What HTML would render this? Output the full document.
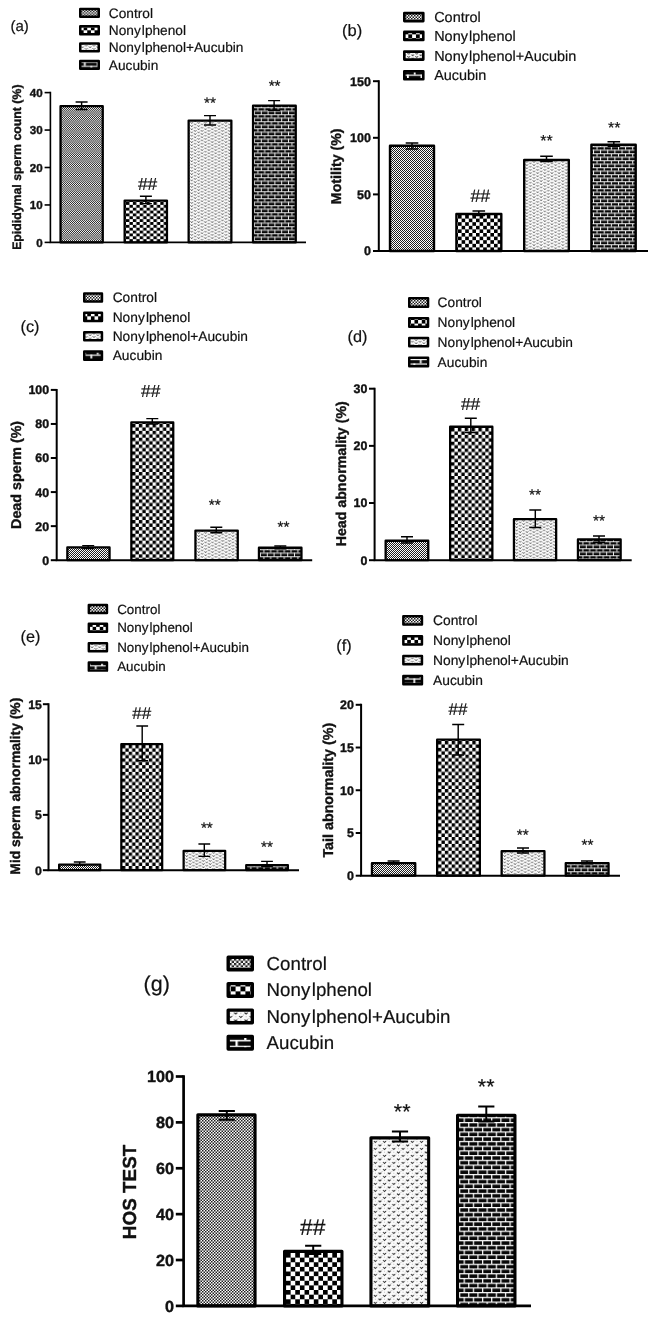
<!DOCTYPE html>
<html lang="en">
<head>
<meta charset="utf-8">
<title>Sperm parameters - bar charts</title>
<style>
html,body{margin:0;padding:0;background:#fff;}
body{width:655px;height:1317px;overflow:hidden;}
text{stroke:#111;stroke-width:.2px;stroke-linejoin:round;}
text.b{stroke-width:.38px;font-weight:700;}
svg{display:block;filter:blur(.35px);will-change:transform;-webkit-font-smoothing:antialiased;font-family:'Liberation Sans', sans-serif;fill:#111;}
</style>
</head>
<body>
<svg width="655" height="1317" viewBox="0 0 655 1317" text-rendering="geometricPrecision">
<rect width="655" height="1317" fill="#fff"/>
<g id="panel-a">
<defs><pattern id="pa0" width="2" height="1.81" patternUnits="userSpaceOnUse"><rect width="2" height="1.81" fill="#fdfdfd"/><rect width="1" height="0.91" fill="#1e1e1e"/><rect x="1" y="0.91" width="1" height="0.91" fill="#1e1e1e"/></pattern><pattern id="pa1" width="6.86" height="5.72" patternUnits="userSpaceOnUse"><rect width="6.86" height="5.72" fill="#fff"/><rect width="3.43" height="2.86" fill="#000"/><rect x="3.43" y="2.86" width="3.43" height="2.86" fill="#000"/></pattern><pattern id="pa2" width="6.85" height="3.2" patternUnits="userSpaceOnUse"><rect width="6.85" height="3.2" fill="#fbfbfb"/><path d="M0.56 0.2L1.71 1.4L2.86 0.2" fill="none" stroke="#2c2c2c" stroke-width="0.8"/><path d="M3.99 1.8L5.14 3L6.29 1.8" fill="none" stroke="#2c2c2c" stroke-width="0.8"/></pattern><pattern id="pa3" width="6.8" height="7" y="0.25" patternUnits="userSpaceOnUse"><rect width="6.8" height="7" fill="#080808"/><rect y="0" width="6.8" height="0.9" fill="#fff"/><rect y="3.5" width="6.8" height="0.9" fill="#fff"/><rect x="3.4" y="0" width="0.9" height="3.5" fill="#fff"/><rect x="0" y="3.5" width="0.9" height="3.5" fill="#fff"/></pattern><pattern id="qa0" href="#pa0" patternTransform="scale(1.5 1.5)"/><pattern id="qa1" href="#pa1" patternTransform="scale(1.06 1.06)"/><pattern id="qa2" href="#pa2" patternTransform="scale(1.12 1.0)"/><pattern id="qa3" href="#pa3" patternTransform="scale(1.9 1.25)"/></defs>
<rect x="80.25" y="8.95" width="18.5" height="7.9" fill="url(#qa0)" stroke="#000" stroke-width="2.5" stroke-linejoin="round"/>
<text x="108.8" y="17.56" font-size="13.7">Control</text>
<rect x="80.25" y="26.25" width="18.5" height="7.9" fill="url(#qa1)" stroke="#000" stroke-width="2.5" stroke-linejoin="round"/>
<text x="108.8" y="34.86" font-size="13.7">Nony<tspan dx="1.1">l</tspan>phenol</text>
<rect x="80.25" y="43.45" width="18.5" height="7.9" fill="url(#qa2)" stroke="#000" stroke-width="2.5" stroke-linejoin="round"/>
<text x="108.8" y="52.06" font-size="13.7">Nony<tspan dx="1.1">l</tspan>phenol+Aucubin</text>
<rect x="80.25" y="60.95" width="18.5" height="7.9" fill="url(#qa3)" stroke="#000" stroke-width="2.5" stroke-linejoin="round"/>
<text x="108.8" y="69.56" font-size="13.7">Aucubin</text>
<text x="10.5" y="31.2" font-size="15">(a)</text>
<g transform="translate(62 108)"><rect x="-1.45" y="-1.85" width="42.2" height="136.25" fill="url(#pa0)" stroke="#000" stroke-width="2.3" stroke-linejoin="round"/></g>
<g transform="translate(126 202)"><rect x="-1.35" y="-1.45" width="42.3" height="41.85" fill="url(#pa1)" stroke="#000" stroke-width="2.3" stroke-linejoin="round"/></g>
<g transform="translate(190 122)"><rect x="-1.35" y="-1.45" width="42.7" height="121.85" fill="url(#pa2)" stroke="#000" stroke-width="2.3" stroke-linejoin="round"/></g>
<g transform="translate(254 107)"><rect x="-0.95" y="-1.35" width="42.7" height="136.75" fill="url(#pa3)" stroke="#000" stroke-width="2.3" stroke-linejoin="round"/></g>
<path d="M81.6 101.9V109.4M75.6 101.9H87.6M75.6 109.4H87.6" fill="none" stroke="#000" stroke-width="1.45"/>
<path d="M145.9 196.2V203.6M139.9 196.2H151.9M139.9 203.6H151.9" fill="none" stroke="#000" stroke-width="1.45"/>
<path d="M210 115.6V125M204 115.6H216M204 125H216" fill="none" stroke="#000" stroke-width="1.45"/>
<path d="M274.1 100.6V110.2M268.1 100.6H280.1M268.1 110.2H280.1" fill="none" stroke="#000" stroke-width="1.45"/>
<path d="M50.4 91.8V242.4H306" fill="none" stroke="#000" stroke-width="1.6" stroke-linejoin="miter"/>
<path d="M44.6 242.4H50.4" stroke="#000" stroke-width="1.6"/>
<text x="42.6" y="246.55" font-size="11.6" class="b" text-anchor="end">0</text>
<path d="M44.6 204.95H50.4" stroke="#000" stroke-width="1.6"/>
<text x="42.6" y="209.1" font-size="11.6" class="b" text-anchor="end">10</text>
<path d="M44.6 167.5H50.4" stroke="#000" stroke-width="1.6"/>
<text x="42.6" y="171.65" font-size="11.6" class="b" text-anchor="end">20</text>
<path d="M44.6 130.05H50.4" stroke="#000" stroke-width="1.6"/>
<text x="42.6" y="134.2" font-size="11.6" class="b" text-anchor="end">30</text>
<path d="M44.6 92.6H50.4" stroke="#000" stroke-width="1.6"/>
<text x="42.6" y="96.75" font-size="11.6" class="b" text-anchor="end">40</text>
<text transform="translate(20.8 167.2) rotate(-90)" font-size="12.3" class="b" text-anchor="middle">Epididymal sperm count (%)</text>
<text x="147.6" y="189.54" font-size="17.4" text-anchor="middle">##</text>
<text x="209.96" y="107.61" font-size="15.3" text-anchor="middle">**</text>
<text x="274.6" y="91.08" font-size="15.3" text-anchor="middle">**</text>
</g>
<g id="panel-b">
<defs><pattern id="pb0" width="2" height="2" patternUnits="userSpaceOnUse"><rect width="2" height="2" fill="#fdfdfd"/><rect width="1" height="1" fill="#1e1e1e"/><rect x="1" y="1" width="1" height="1" fill="#1e1e1e"/></pattern><pattern id="pb1" width="7.2" height="7.2" patternUnits="userSpaceOnUse"><rect width="7.2" height="7.2" fill="#fff"/><rect width="3.6" height="3.6" fill="#000"/><rect x="3.6" y="3.6" width="3.6" height="3.6" fill="#000"/></pattern><pattern id="pb2" width="7.19" height="3.2" patternUnits="userSpaceOnUse"><rect width="7.19" height="3.2" fill="#fbfbfb"/><path d="M0.65 0.2L1.8 1.4L2.95 0.2" fill="none" stroke="#2c2c2c" stroke-width="0.8"/><path d="M4.24 1.8L5.39 3L6.54 1.8" fill="none" stroke="#2c2c2c" stroke-width="0.8"/></pattern><pattern id="pb3" width="7.14" height="7" y="0.25" patternUnits="userSpaceOnUse"><rect width="7.14" height="7" fill="#080808"/><rect y="0" width="7.14" height="0.95" fill="#fff"/><rect y="3.5" width="7.14" height="0.95" fill="#fff"/><rect x="3.57" y="0" width="0.95" height="3.5" fill="#fff"/><rect x="0" y="3.5" width="0.95" height="3.5" fill="#fff"/></pattern><pattern id="qb0" href="#pb0" patternTransform="scale(1.5 1.5)"/><pattern id="qb1" href="#pb1" patternTransform="scale(1.06 1.06)"/><pattern id="qb2" href="#pb2" patternTransform="scale(1.12 1.0)"/><pattern id="qb3" href="#pb3" patternTransform="scale(1.9 1.25)"/></defs>
<rect x="404.31" y="13.11" width="18.98" height="7.97" fill="url(#qb0)" stroke="#000" stroke-width="2.62" stroke-linejoin="round"/>
<text x="434.2" y="22.01" font-size="14.45">Control</text>
<rect x="404.31" y="31.91" width="18.98" height="7.97" fill="url(#qb1)" stroke="#000" stroke-width="2.62" stroke-linejoin="round"/>
<text x="434.2" y="40.81" font-size="14.45">Nony<tspan dx="1.16">l</tspan>phenol</text>
<rect x="404.31" y="51.61" width="18.98" height="7.97" fill="url(#qb2)" stroke="#000" stroke-width="2.62" stroke-linejoin="round"/>
<text x="434.2" y="60.51" font-size="14.45">Nony<tspan dx="1.16">l</tspan>phenol+Aucubin</text>
<rect x="404.31" y="71.31" width="18.98" height="7.97" fill="url(#qb3)" stroke="#000" stroke-width="2.62" stroke-linejoin="round"/>
<text x="434.2" y="80.21" font-size="14.45">Aucubin</text>
<text x="342" y="35.6" font-size="16.5">(b)</text>
<g transform="translate(391 147)"><rect x="-0.99" y="-1.29" width="43.98" height="105.29" fill="url(#pb0)" stroke="#000" stroke-width="2.42" stroke-linejoin="round"/></g>
<g transform="translate(458 215)"><rect x="-1.59" y="-0.99" width="44.89" height="36.99" fill="url(#pb1)" stroke="#000" stroke-width="2.42" stroke-linejoin="round"/></g>
<g transform="translate(525 161)"><rect x="-0.79" y="-0.99" width="44.59" height="90.99" fill="url(#pb2)" stroke="#000" stroke-width="2.42" stroke-linejoin="round"/></g>
<g transform="translate(593 146)"><rect x="-1.59" y="-1.29" width="44.28" height="106.29" fill="url(#pb3)" stroke="#000" stroke-width="2.42" stroke-linejoin="round"/></g>
<path d="M412 142.9V149M405.7 142.9H418.3M405.7 149H418.3" fill="none" stroke="#000" stroke-width="1.52"/>
<path d="M478.8 211V215.4M472.5 211H485.1M472.5 215.4H485.1" fill="none" stroke="#000" stroke-width="1.52"/>
<path d="M546.5 156.3V161.6M540.2 156.3H552.8M540.2 161.6H552.8" fill="none" stroke="#000" stroke-width="1.52"/>
<path d="M613.8 141.7V146.2M607.5 141.7H620.1M607.5 146.2H620.1" fill="none" stroke="#000" stroke-width="1.52"/>
<path d="M378.8 80.2V251H648" fill="none" stroke="#000" stroke-width="2" stroke-linejoin="miter"/>
<path d="M373 251H378.8" stroke="#000" stroke-width="2"/>
<text x="370.9" y="255.47" font-size="12.5" class="b" text-anchor="end">0</text>
<path d="M373 194.4H378.8" stroke="#000" stroke-width="2"/>
<text x="370.9" y="198.88" font-size="12.5" class="b" text-anchor="end">50</text>
<path d="M373 137.8H378.8" stroke="#000" stroke-width="2"/>
<text x="370.9" y="142.28" font-size="12.5" class="b" text-anchor="end">100</text>
<path d="M373 81.2H378.8" stroke="#000" stroke-width="2"/>
<text x="370.9" y="85.67" font-size="12.5" class="b" text-anchor="end">150</text>
<text transform="translate(341.2 166.3) rotate(-90)" font-size="14.2" class="b" text-anchor="middle">Motility (%)</text>
<text x="480.27" y="202.13" font-size="17.8" text-anchor="middle">##</text>
<text x="546.5" y="146.04" font-size="16" text-anchor="middle">**</text>
<text x="614.25" y="133.49" font-size="16" text-anchor="middle">**</text>
</g>
<g id="panel-c">
<defs><pattern id="pc0" width="2" height="2" patternUnits="userSpaceOnUse"><rect width="2" height="2" fill="#fdfdfd"/><rect width="1" height="1" fill="#1e1e1e"/><rect x="1" y="1" width="1" height="1" fill="#1e1e1e"/></pattern><pattern id="pc1" width="6.86" height="6.86" patternUnits="userSpaceOnUse"><rect width="6.86" height="6.86" fill="#fff"/><rect width="3.43" height="3.43" fill="#000"/><rect x="3.43" y="3.43" width="3.43" height="3.43" fill="#000"/></pattern><pattern id="pc2" width="6.85" height="3.2" patternUnits="userSpaceOnUse"><rect width="6.85" height="3.2" fill="#fbfbfb"/><path d="M0.56 0.2L1.71 1.4L2.86 0.2" fill="none" stroke="#2c2c2c" stroke-width="0.8"/><path d="M3.99 1.8L5.14 3L6.29 1.8" fill="none" stroke="#2c2c2c" stroke-width="0.8"/></pattern><pattern id="pc3" width="6.8" height="7" y="0.25" patternUnits="userSpaceOnUse"><rect width="6.8" height="7" fill="#080808"/><rect y="0" width="6.8" height="0.9" fill="#fff"/><rect y="3.5" width="6.8" height="0.9" fill="#fff"/><rect x="3.4" y="0" width="0.9" height="3.5" fill="#fff"/><rect x="0" y="3.5" width="0.9" height="3.5" fill="#fff"/></pattern><pattern id="qc0" href="#pc0" patternTransform="scale(1.5 1.5)"/><pattern id="qc1" href="#pc1" patternTransform="scale(1.06 1.06)"/><pattern id="qc2" href="#pc2" patternTransform="scale(1.12 1.0)"/><pattern id="qc3" href="#pc3" patternTransform="scale(1.9 1.25)"/></defs>
<rect x="84.25" y="293.45" width="17.7" height="8.1" fill="url(#qc0)" stroke="#000" stroke-width="2.5" stroke-linejoin="round"/>
<text x="112.7" y="302.18" font-size="13.75">Control</text>
<rect x="84.25" y="312.85" width="17.7" height="8.1" fill="url(#qc1)" stroke="#000" stroke-width="2.5" stroke-linejoin="round"/>
<text x="112.7" y="321.57" font-size="13.75">Nony<tspan dx="1.1">l</tspan>phenol</text>
<rect x="84.25" y="332.15" width="17.7" height="8.1" fill="url(#qc2)" stroke="#000" stroke-width="2.5" stroke-linejoin="round"/>
<text x="112.7" y="340.88" font-size="13.75">Nony<tspan dx="1.1">l</tspan>phenol+Aucubin</text>
<rect x="84.25" y="351.55" width="17.7" height="8.1" fill="url(#qc3)" stroke="#000" stroke-width="2.5" stroke-linejoin="round"/>
<text x="112.7" y="360.28" font-size="13.75">Aucubin</text>
<text x="20.5" y="332" font-size="16.3">(c)</text>
<g transform="translate(68 549)"><rect x="-0.65" y="-1.55" width="42.2" height="12.75" fill="url(#pc0)" stroke="#000" stroke-width="2.3" stroke-linejoin="round"/></g>
<g transform="translate(132 424)"><rect x="-0.65" y="-1.55" width="41.9" height="137.75" fill="url(#pc1)" stroke="#000" stroke-width="2.3" stroke-linejoin="round"/></g>
<g transform="translate(197 532)"><rect x="-1.55" y="-1.45" width="42.3" height="29.65" fill="url(#pc2)" stroke="#000" stroke-width="2.3" stroke-linejoin="round"/></g>
<g transform="translate(260 549)"><rect x="-1.05" y="-1.25" width="42.5" height="12.45" fill="url(#pc3)" stroke="#000" stroke-width="2.3" stroke-linejoin="round"/></g>
<path d="M88.2 545.6V548.4M82.2 545.6H94.2M82.2 548.4H94.2" fill="none" stroke="#000" stroke-width="1.45"/>
<path d="M152.3 418.6V424M146.3 418.6H158.3M146.3 424H158.3" fill="none" stroke="#000" stroke-width="1.45"/>
<path d="M216.3 527.2V532.7M210.3 527.2H222.3M210.3 532.7H222.3" fill="none" stroke="#000" stroke-width="1.45"/>
<path d="M280.3 546V548.8M274.3 546H286.3M274.3 548.8H286.3" fill="none" stroke="#000" stroke-width="1.45"/>
<path d="M56.7 388.9V560.2H312.2" fill="none" stroke="#000" stroke-width="2" stroke-linejoin="miter"/>
<path d="M50.8 560.2H56.7" stroke="#000" stroke-width="2"/>
<text x="49.1" y="564.64" font-size="12.4" class="b" text-anchor="end">0</text>
<path d="M50.8 526.14H56.7" stroke="#000" stroke-width="2"/>
<text x="49.1" y="530.58" font-size="12.4" class="b" text-anchor="end">20</text>
<path d="M50.8 492.08H56.7" stroke="#000" stroke-width="2"/>
<text x="49.1" y="496.52" font-size="12.4" class="b" text-anchor="end">40</text>
<path d="M50.8 458.02H56.7" stroke="#000" stroke-width="2"/>
<text x="49.1" y="462.46" font-size="12.4" class="b" text-anchor="end">60</text>
<path d="M50.8 423.96H56.7" stroke="#000" stroke-width="2"/>
<text x="49.1" y="428.4" font-size="12.4" class="b" text-anchor="end">80</text>
<path d="M50.8 389.9H56.7" stroke="#000" stroke-width="2"/>
<text x="49.1" y="394.34" font-size="12.4" class="b" text-anchor="end">100</text>
<text transform="translate(20.7 474.9) rotate(-90)" font-size="14.3" class="b" text-anchor="middle">Dead sperm (%)</text>
<text x="150.73" y="397.04" font-size="17.4" text-anchor="middle">##</text>
<text x="214.65" y="510.38" font-size="15.3" text-anchor="middle">**</text>
<text x="283.47" y="531.88" font-size="15.3" text-anchor="middle">**</text>
</g>
<g id="panel-d">
<defs><pattern id="pd0" width="2" height="2" patternUnits="userSpaceOnUse"><rect width="2" height="2" fill="#fdfdfd"/><rect width="1" height="1" fill="#1e1e1e"/><rect x="1" y="1" width="1" height="1" fill="#1e1e1e"/></pattern><pattern id="pd1" width="6.86" height="6.86" patternUnits="userSpaceOnUse"><rect width="6.86" height="6.86" fill="#fff"/><rect width="3.43" height="3.43" fill="#000"/><rect x="3.43" y="3.43" width="3.43" height="3.43" fill="#000"/></pattern><pattern id="pd2" width="6.85" height="3.2" patternUnits="userSpaceOnUse"><rect width="6.85" height="3.2" fill="#fbfbfb"/><path d="M0.56 0.2L1.71 1.4L2.86 0.2" fill="none" stroke="#2c2c2c" stroke-width="0.8"/><path d="M3.99 1.8L5.14 3L6.29 1.8" fill="none" stroke="#2c2c2c" stroke-width="0.8"/></pattern><pattern id="pd3" width="6.8" height="7" y="0.25" patternUnits="userSpaceOnUse"><rect width="6.8" height="7" fill="#080808"/><rect y="0" width="6.8" height="0.9" fill="#fff"/><rect y="3.5" width="6.8" height="0.9" fill="#fff"/><rect x="3.4" y="0" width="0.9" height="3.5" fill="#fff"/><rect x="0" y="3.5" width="0.9" height="3.5" fill="#fff"/></pattern><pattern id="qd0" href="#pd0" patternTransform="scale(1.5 1.5)"/><pattern id="qd1" href="#pd1" patternTransform="scale(1.06 1.06)"/><pattern id="qd2" href="#pd2" patternTransform="scale(1.12 1.0)"/><pattern id="qd3" href="#pd3" patternTransform="scale(1.9 1.25)"/></defs>
<rect x="409.25" y="298.35" width="18.8" height="8.3" fill="url(#qd0)" stroke="#000" stroke-width="2.5" stroke-linejoin="round"/>
<text x="437.6" y="307.18" font-size="13.75">Control</text>
<rect x="409.25" y="318.35" width="18.8" height="8.3" fill="url(#qd1)" stroke="#000" stroke-width="2.5" stroke-linejoin="round"/>
<text x="437.6" y="327.18" font-size="13.75">Nony<tspan dx="1.1">l</tspan>phenol</text>
<rect x="409.25" y="338.05" width="18.8" height="8.3" fill="url(#qd2)" stroke="#000" stroke-width="2.5" stroke-linejoin="round"/>
<text x="437.6" y="346.88" font-size="13.75">Nony<tspan dx="1.1">l</tspan>phenol+Aucubin</text>
<rect x="409.25" y="357.85" width="18.8" height="8.3" fill="url(#qd3)" stroke="#000" stroke-width="2.5" stroke-linejoin="round"/>
<text x="437.6" y="366.68" font-size="13.75">Aucubin</text>
<text x="347.5" y="341.6" font-size="16.3">(d)</text>
<g transform="translate(387 542)"><rect x="-1.35" y="-1.25" width="42.6" height="19.45" fill="url(#pd0)" stroke="#000" stroke-width="2.3" stroke-linejoin="round"/></g>
<g transform="translate(451 428)"><rect x="-0.85" y="-1.25" width="42.2" height="133.45" fill="url(#pd1)" stroke="#000" stroke-width="2.3" stroke-linejoin="round"/></g>
<g transform="translate(515 520)"><rect x="-1.05" y="-0.85" width="42.2" height="41.05" fill="url(#pd2)" stroke="#000" stroke-width="2.3" stroke-linejoin="round"/></g>
<g transform="translate(579 541)"><rect x="-1.05" y="-1.55" width="42.7" height="20.75" fill="url(#pd3)" stroke="#000" stroke-width="2.3" stroke-linejoin="round"/></g>
<path d="M407 536.8V543M401 536.8H413M401 543H413" fill="none" stroke="#000" stroke-width="1.45"/>
<path d="M470.8 418.3V432.6M464.8 418.3H476.8M464.8 432.6H476.8" fill="none" stroke="#000" stroke-width="1.45"/>
<path d="M535.3 510V527.5M529.3 510H541.3M529.3 527.5H541.3" fill="none" stroke="#000" stroke-width="1.45"/>
<path d="M599 536V542.2M593 536H605M593 542.2H605" fill="none" stroke="#000" stroke-width="1.45"/>
<path d="M374.6 387.7V560.2H631.7" fill="none" stroke="#000" stroke-width="2" stroke-linejoin="miter"/>
<path d="M369 560.2H374.6" stroke="#000" stroke-width="2"/>
<text x="367.3" y="564.64" font-size="12.4" class="b" text-anchor="end">0</text>
<path d="M369 503.03H374.6" stroke="#000" stroke-width="2"/>
<text x="367.3" y="507.47" font-size="12.4" class="b" text-anchor="end">10</text>
<path d="M369 445.87H374.6" stroke="#000" stroke-width="2"/>
<text x="367.3" y="450.31" font-size="12.4" class="b" text-anchor="end">20</text>
<path d="M369 388.7H374.6" stroke="#000" stroke-width="2"/>
<text x="367.3" y="393.14" font-size="12.4" class="b" text-anchor="end">30</text>
<text transform="translate(345.9 473.8) rotate(-90)" font-size="14.2" class="b" text-anchor="middle">Head abnormality (%)</text>
<text x="470.57" y="409.56" font-size="17.4" text-anchor="middle">##</text>
<text x="535.01" y="500.19" font-size="15.5" text-anchor="middle">**</text>
<text x="599.01" y="526.34" font-size="15.5" text-anchor="middle">**</text>
</g>
<g id="panel-e">
<defs><pattern id="pe0" width="2" height="2" patternUnits="userSpaceOnUse"><rect width="2" height="2" fill="#fdfdfd"/><rect width="1" height="1" fill="#1e1e1e"/><rect x="1" y="1" width="1" height="1" fill="#1e1e1e"/></pattern><pattern id="pe1" width="6.72" height="6.72" patternUnits="userSpaceOnUse"><rect width="6.72" height="6.72" fill="#fff"/><rect width="3.36" height="3.36" fill="#000"/><rect x="3.36" y="3.36" width="3.36" height="3.36" fill="#000"/></pattern><pattern id="pe2" width="6.71" height="3.2" patternUnits="userSpaceOnUse"><rect width="6.71" height="3.2" fill="#fbfbfb"/><path d="M0.53 0.2L1.68 1.4L2.83 0.2" fill="none" stroke="#2c2c2c" stroke-width="0.8"/><path d="M3.88 1.8L5.03 3L6.18 1.8" fill="none" stroke="#2c2c2c" stroke-width="0.8"/></pattern><pattern id="pe3" width="6.66" height="7" y="0.25" patternUnits="userSpaceOnUse"><rect width="6.66" height="7" fill="#080808"/><rect y="0" width="6.66" height="0.88" fill="#fff"/><rect y="3.5" width="6.66" height="0.88" fill="#fff"/><rect x="3.33" y="0" width="0.88" height="3.5" fill="#fff"/><rect x="0" y="3.5" width="0.88" height="3.5" fill="#fff"/></pattern><pattern id="qe0" href="#pe0" patternTransform="scale(1.5 1.5)"/><pattern id="qe1" href="#pe1" patternTransform="scale(1.06 1.06)"/><pattern id="qe2" href="#pe2" patternTransform="scale(1.12 1.0)"/><pattern id="qe3" href="#pe3" patternTransform="scale(1.9 1.25)"/></defs>
<rect x="88.82" y="604.98" width="18.15" height="8.05" fill="url(#qe0)" stroke="#000" stroke-width="2.45" stroke-linejoin="round"/>
<text x="117.2" y="613.56" font-size="13.4">Control</text>
<rect x="88.82" y="623.77" width="18.15" height="8.05" fill="url(#qe1)" stroke="#000" stroke-width="2.45" stroke-linejoin="round"/>
<text x="117.2" y="632.36" font-size="13.4">Nony<tspan dx="1.08">l</tspan>phenol</text>
<rect x="88.82" y="643.18" width="18.15" height="8.05" fill="url(#qe2)" stroke="#000" stroke-width="2.45" stroke-linejoin="round"/>
<text x="117.2" y="651.76" font-size="13.4">Nony<tspan dx="1.08">l</tspan>phenol+Aucubin</text>
<rect x="88.82" y="662.58" width="18.15" height="8.05" fill="url(#qe3)" stroke="#000" stroke-width="2.45" stroke-linejoin="round"/>
<text x="117.2" y="671.16" font-size="13.4">Aucubin</text>
<text x="20.5" y="641.8" font-size="16.3">(e)</text>
<g transform="translate(60 866)"><rect x="-0.87" y="-1.47" width="41.15" height="5.67" fill="url(#pe0)" stroke="#000" stroke-width="2.25" stroke-linejoin="round"/></g>
<g transform="translate(122 745)"><rect x="-0.67" y="-0.87" width="40.85" height="126.07" fill="url(#pe1)" stroke="#000" stroke-width="2.25" stroke-linejoin="round"/></g>
<g transform="translate(185 852)"><rect x="-1.37" y="-1.17" width="41.55" height="19.37" fill="url(#pe2)" stroke="#000" stroke-width="2.25" stroke-linejoin="round"/></g>
<g transform="translate(247 866)"><rect x="-0.77" y="-0.97" width="41.65" height="5.17" fill="url(#pe3)" stroke="#000" stroke-width="2.25" stroke-linejoin="round"/></g>
<path d="M79.7 862V865.4M73.82 862H85.58M73.82 865.4H85.58" fill="none" stroke="#000" stroke-width="1.42"/>
<path d="M142.2 726V760.8M136.32 726H148.08M136.32 760.8H148.08" fill="none" stroke="#000" stroke-width="1.42"/>
<path d="M204.3 844V856.4M198.42 844H210.18M198.42 856.4H210.18" fill="none" stroke="#000" stroke-width="1.42"/>
<path d="M267 861.4V866.6M261.12 861.4H272.88M261.12 866.6H272.88" fill="none" stroke="#000" stroke-width="1.42"/>
<path d="M48.5 703.2V870.2H299" fill="none" stroke="#000" stroke-width="2" stroke-linejoin="miter"/>
<path d="M42.9 870.2H48.5" stroke="#000" stroke-width="2"/>
<text x="41.9" y="874.6" font-size="12.3" class="b" text-anchor="end">0</text>
<path d="M42.9 814.87H48.5" stroke="#000" stroke-width="2"/>
<text x="41.9" y="819.27" font-size="12.3" class="b" text-anchor="end">5</text>
<path d="M42.9 759.53H48.5" stroke="#000" stroke-width="2"/>
<text x="41.9" y="763.94" font-size="12.3" class="b" text-anchor="end">10</text>
<path d="M42.9 704.2H48.5" stroke="#000" stroke-width="2"/>
<text x="41.9" y="708.6" font-size="12.3" class="b" text-anchor="end">15</text>
<text transform="translate(20.2 786.2) rotate(-90)" font-size="13.85" class="b" text-anchor="middle">Mid sperm abnormality (%)</text>
<text x="141.82" y="718.64" font-size="17" text-anchor="middle">##</text>
<text x="206.89" y="832.59" font-size="15.3" text-anchor="middle">**</text>
<text x="267.04" y="852.41" font-size="15.3" text-anchor="middle">**</text>
</g>
<g id="panel-f">
<defs><pattern id="pf0" width="2" height="2" patternUnits="userSpaceOnUse"><rect width="2" height="2" fill="#fdfdfd"/><rect width="1" height="1" fill="#1e1e1e"/><rect x="1" y="1" width="1" height="1" fill="#1e1e1e"/></pattern><pattern id="pf1" width="6.86" height="6.86" patternUnits="userSpaceOnUse"><rect width="6.86" height="6.86" fill="#fff"/><rect width="3.43" height="3.43" fill="#000"/><rect x="3.43" y="3.43" width="3.43" height="3.43" fill="#000"/></pattern><pattern id="pf2" width="6.85" height="3.2" patternUnits="userSpaceOnUse"><rect width="6.85" height="3.2" fill="#fbfbfb"/><path d="M0.56 0.2L1.71 1.4L2.86 0.2" fill="none" stroke="#2c2c2c" stroke-width="0.8"/><path d="M3.99 1.8L5.14 3L6.29 1.8" fill="none" stroke="#2c2c2c" stroke-width="0.8"/></pattern><pattern id="pf3" width="6.8" height="7" y="0.25" patternUnits="userSpaceOnUse"><rect width="6.8" height="7" fill="#080808"/><rect y="0" width="6.8" height="0.9" fill="#fff"/><rect y="3.5" width="6.8" height="0.9" fill="#fff"/><rect x="3.4" y="0" width="0.9" height="3.5" fill="#fff"/><rect x="0" y="3.5" width="0.9" height="3.5" fill="#fff"/></pattern><pattern id="qf0" href="#pf0" patternTransform="scale(1.5 1.5)"/><pattern id="qf1" href="#pf1" patternTransform="scale(1.06 1.06)"/><pattern id="qf2" href="#pf2" patternTransform="scale(1.12 1.0)"/><pattern id="qf3" href="#pf3" patternTransform="scale(1.9 1.25)"/></defs>
<rect x="403.35" y="616.25" width="18.6" height="8.3" fill="url(#qf0)" stroke="#000" stroke-width="2.5" stroke-linejoin="round"/>
<text x="433" y="625.09" font-size="13.8">Control</text>
<rect x="403.35" y="636.15" width="18.6" height="8.3" fill="url(#qf1)" stroke="#000" stroke-width="2.5" stroke-linejoin="round"/>
<text x="433" y="644.99" font-size="13.8">Nony<tspan dx="1.1">l</tspan>phenol</text>
<rect x="403.35" y="655.95" width="18.6" height="8.3" fill="url(#qf2)" stroke="#000" stroke-width="2.5" stroke-linejoin="round"/>
<text x="433" y="664.79" font-size="13.8">Nony<tspan dx="1.1">l</tspan>phenol+Aucubin</text>
<rect x="403.35" y="675.95" width="18.6" height="8.3" fill="url(#qf3)" stroke="#000" stroke-width="2.5" stroke-linejoin="round"/>
<text x="433" y="684.79" font-size="13.8">Aucubin</text>
<text x="336.3" y="651" font-size="16.3">(f)</text>
<g transform="translate(373 864)"><rect x="-1.05" y="-0.85" width="43.3" height="12.55" fill="url(#pf0)" stroke="#000" stroke-width="2.3" stroke-linejoin="round"/></g>
<g transform="translate(438 741)"><rect x="-0.85" y="-1.35" width="42.7" height="136.05" fill="url(#pf1)" stroke="#000" stroke-width="2.3" stroke-linejoin="round"/></g>
<g transform="translate(503 852)"><rect x="-1.35" y="-0.85" width="42.8" height="24.55" fill="url(#pf2)" stroke="#000" stroke-width="2.3" stroke-linejoin="round"/></g>
<g transform="translate(567 864)"><rect x="-1.25" y="-0.85" width="42.8" height="12.55" fill="url(#pf3)" stroke="#000" stroke-width="2.3" stroke-linejoin="round"/></g>
<path d="M393.6 861V864M387.6 861H399.6M387.6 864H399.6" fill="none" stroke="#000" stroke-width="1.45"/>
<path d="M458.2 724.4V755M452.2 724.4H464.2M452.2 755H464.2" fill="none" stroke="#000" stroke-width="1.45"/>
<path d="M523 848V853M517 848H529M517 853H529" fill="none" stroke="#000" stroke-width="1.45"/>
<path d="M587 861V863.8M581 861H593M581 863.8H593" fill="none" stroke="#000" stroke-width="1.45"/>
<path d="M361.1 703.8V875.7H620" fill="none" stroke="#000" stroke-width="2" stroke-linejoin="miter"/>
<path d="M355.7 875.7H361.1" stroke="#000" stroke-width="2"/>
<text x="353.9" y="880.14" font-size="12.4" class="b" text-anchor="end">0</text>
<path d="M355.7 832.98H361.1" stroke="#000" stroke-width="2"/>
<text x="353.9" y="837.41" font-size="12.4" class="b" text-anchor="end">5</text>
<path d="M355.7 790.25H361.1" stroke="#000" stroke-width="2"/>
<text x="353.9" y="794.69" font-size="12.4" class="b" text-anchor="end">10</text>
<path d="M355.7 747.52H361.1" stroke="#000" stroke-width="2"/>
<text x="353.9" y="751.96" font-size="12.4" class="b" text-anchor="end">15</text>
<path d="M355.7 704.8H361.1" stroke="#000" stroke-width="2"/>
<text x="353.9" y="709.24" font-size="12.4" class="b" text-anchor="end">20</text>
<text transform="translate(332.9 790.2) rotate(-90)" font-size="14.3" class="b" text-anchor="middle">Tail abnormality (%)</text>
<text x="458.08" y="715.44" font-size="17" text-anchor="middle">##</text>
<text x="522.65" y="839.58" font-size="15.3" text-anchor="middle">**</text>
<text x="587.47" y="849.63" font-size="15.3" text-anchor="middle">**</text>
</g>
<g id="panel-g">
<defs><pattern id="pg0" width="3" height="3" patternUnits="userSpaceOnUse"><rect width="3" height="3" fill="#fdfdfd"/><rect width="1.5" height="1.5" fill="#1e1e1e"/><rect x="1.5" y="1.5" width="1.5" height="1.5" fill="#1e1e1e"/></pattern><pattern id="pg1" width="9.26" height="9.26" patternUnits="userSpaceOnUse"><rect width="9.26" height="9.26" fill="#fff"/><rect width="4.63" height="4.63" fill="#000"/><rect x="4.63" y="4.63" width="4.63" height="4.63" fill="#000"/></pattern><pattern id="pg2" width="9.25" height="7" patternUnits="userSpaceOnUse"><rect width="9.25" height="7" fill="#fbfbfb"/><path d="M0.86 1.02L2.31 2.48L3.76 1.02" fill="none" stroke="#2c2c2c" stroke-width="1"/><path d="M5.49 4.53L6.94 5.97L8.39 4.53" fill="none" stroke="#2c2c2c" stroke-width="1"/><rect x="6.44" y="1.25" width="1" height="1" fill="#bdbdbd"/><rect x="1.81" y="4.75" width="1" height="1" fill="#bdbdbd"/><rect x="-0.5" y="3" width="1" height="1" fill="#bdbdbd"/><rect x="8.75" y="3" width="1" height="1" fill="#bdbdbd"/><rect x="4.12" y="-0.5" width="1" height="1" fill="#bdbdbd"/><rect x="4.12" y="6.5" width="1" height="1" fill="#bdbdbd"/></pattern><pattern id="pg3" width="9.18" height="9.45" y="0.25" patternUnits="userSpaceOnUse"><rect width="9.18" height="9.45" fill="#080808"/><rect y="0" width="9.18" height="1.22" fill="#fff"/><rect y="4.73" width="9.18" height="1.22" fill="#fff"/><rect x="4.59" y="0" width="1.22" height="4.73" fill="#fff"/><rect x="0" y="4.73" width="1.22" height="4.73" fill="#fff"/></pattern><pattern id="qg0" href="#pg0" patternTransform="scale(1.5 1.5)"/><pattern id="qg1" href="#pg1" patternTransform="scale(1.06 1.06)"/><pattern id="qg2" href="#pg2" patternTransform="scale(1.12 1.0)"/><pattern id="qg3" href="#pg3" patternTransform="scale(1.9 1.25)"/></defs>
<rect x="228.19" y="957.19" width="24.12" height="12.62" fill="url(#qg0)" stroke="#000" stroke-width="3.38" stroke-linejoin="round"/>
<text x="266.6" y="969.86" font-size="18.7">Control</text>
<rect x="228.19" y="983.59" width="24.12" height="12.62" fill="url(#qg1)" stroke="#000" stroke-width="3.38" stroke-linejoin="round"/>
<text x="266.6" y="996.26" font-size="18.7">Nony<tspan dx="1.49">l</tspan>phenol</text>
<rect x="228.19" y="1010.09" width="24.12" height="12.62" fill="url(#qg2)" stroke="#000" stroke-width="3.38" stroke-linejoin="round"/>
<text x="266.6" y="1022.76" font-size="18.7">Nony<tspan dx="1.49">l</tspan>phenol+Aucubin</text>
<rect x="228.19" y="1036.39" width="24.12" height="12.62" fill="url(#qg3)" stroke="#000" stroke-width="3.38" stroke-linejoin="round"/>
<text x="266.6" y="1049.06" font-size="18.7">Aucubin</text>
<text x="143.6" y="990.6" font-size="21.5">(g)</text>
<g transform="translate(199 1117)"><rect x="-1.15" y="-2.15" width="57.2" height="191.05" fill="url(#pg0)" stroke="#000" stroke-width="3.1" stroke-linejoin="round"/></g>
<g transform="translate(286 1253)"><rect x="-1.45" y="-1.65" width="57.4" height="54.55" fill="url(#pg1)" stroke="#000" stroke-width="3.1" stroke-linejoin="round"/></g>
<g transform="translate(373 1140)"><rect x="-2.05" y="-2.15" width="57.7" height="168.05" fill="url(#pg2)" stroke="#000" stroke-width="3.1" stroke-linejoin="round"/></g>
<g transform="translate(459 1117)"><rect x="-1.45" y="-1.75" width="57.4" height="190.65" fill="url(#pg3)" stroke="#000" stroke-width="3.1" stroke-linejoin="round"/></g>
<path d="M226.8 1111V1119.8M218.7 1111H234.9M218.7 1119.8H234.9" fill="none" stroke="#000" stroke-width="1.96"/>
<path d="M313.2 1245.8V1254M305.1 1245.8H321.3M305.1 1254H321.3" fill="none" stroke="#000" stroke-width="1.96"/>
<path d="M400 1131.5V1141.6M391.9 1131.5H408.1M391.9 1141.6H408.1" fill="none" stroke="#000" stroke-width="1.96"/>
<path d="M486.3 1106.4V1121.4M478.2 1106.4H494.4M478.2 1121.4H494.4" fill="none" stroke="#000" stroke-width="1.96"/>
<path d="M183.6 1075.15V1305.9H531" fill="none" stroke="#000" stroke-width="2.7" stroke-linejoin="miter"/>
<path d="M175.8 1305.9H183.6" stroke="#000" stroke-width="2.7"/>
<text x="173.9" y="1311.7" font-size="16.2" class="b" text-anchor="end">0</text>
<path d="M175.8 1260.02H183.6" stroke="#000" stroke-width="2.7"/>
<text x="173.9" y="1265.82" font-size="16.2" class="b" text-anchor="end">20</text>
<path d="M175.8 1214.14H183.6" stroke="#000" stroke-width="2.7"/>
<text x="173.9" y="1219.94" font-size="16.2" class="b" text-anchor="end">40</text>
<path d="M175.8 1168.26H183.6" stroke="#000" stroke-width="2.7"/>
<text x="173.9" y="1174.06" font-size="16.2" class="b" text-anchor="end">60</text>
<path d="M175.8 1122.38H183.6" stroke="#000" stroke-width="2.7"/>
<text x="173.9" y="1128.18" font-size="16.2" class="b" text-anchor="end">80</text>
<path d="M175.8 1076.5H183.6" stroke="#000" stroke-width="2.7"/>
<text x="173.9" y="1082.3" font-size="16.2" class="b" text-anchor="end">100</text>
<text transform="translate(135.6 1191.9) rotate(-90)" font-size="18.9" class="b" text-anchor="middle">HOS TEST</text>
<text x="312.72" y="1234.5" font-size="22.8" text-anchor="middle">##</text>
<text x="402.21" y="1118.98" font-size="21.5" text-anchor="middle">**</text>
<text x="486.22" y="1093.98" font-size="21.5" text-anchor="middle">**</text>
</g>
</svg>
</body>
</html>
